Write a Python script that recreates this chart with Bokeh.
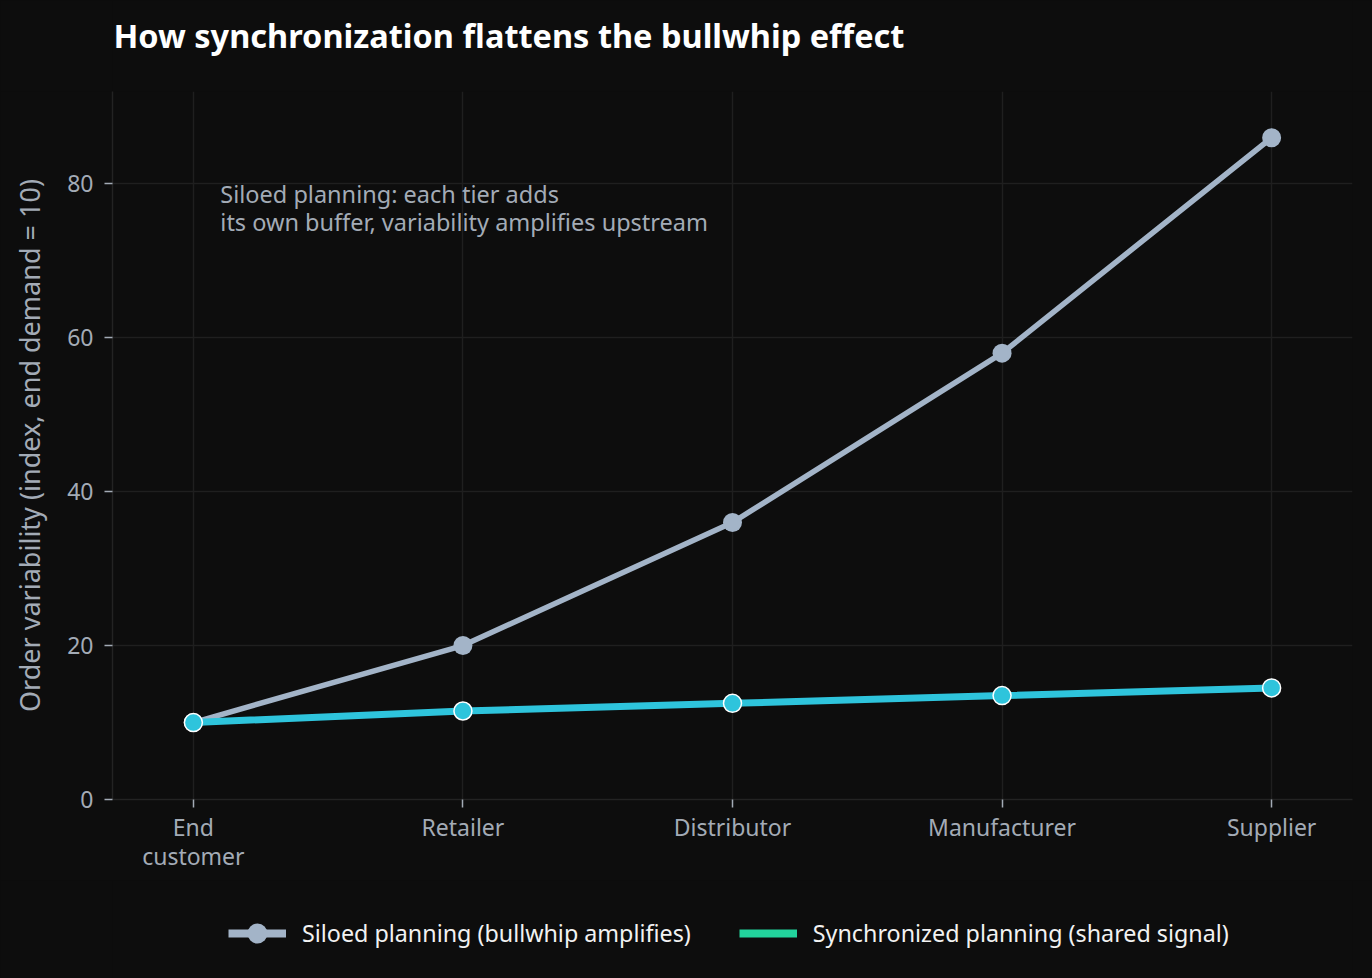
from bokeh.plotting import figure
from bokeh.layouts import column
from bokeh.models import Legend, LegendItem, Label, FixedTicker, Range1d, ColumnDataSource
from bokeh.embed import file_html
from bokeh.resources import INLINE

# Supply-chain tiers, from end demand upstream
tiers = ["End\ncustomer", "Retailer", "Distributor", "Manufacturer", "Supplier"]
tier_pos = [0, 1, 2, 3, 4]
siloed = [10, 20, 36, 58, 86]
synchronized = [10, 11.5, 12.5, 13.5, 14.5]
y_ticks = [0, 20, 40, 60, 80]

FONT = "Noto Sans"
BG = "#0d0d0d"
GRID = "#1f1f1f"
MUTED = "#a3abb6"
SILO_C = "#a3b4c8"
SYNC_C = "#2ec4dc"
SYNC_LEGEND_C = "#22d39c"
W = 1372
FRAME_W = 1240  # plot area width shared by all three stacked strips


def blank_strip(height):
    """A plain strip (no axes or grid) used for the heading and the key."""
    f = figure(width=W, height=height, output_backend="svg", toolbar_location=None,
               x_range=Range1d(0, FRAME_W), y_range=Range1d(0, height),
               x_axis_type=None, y_axis_type=None, min_border=0)
    f.grid.visible = False
    f.background_fill_color = BG
    f.border_fill_color = BG
    f.outline_line_color = None
    return f


# ---- heading -------------------------------------------------------------
head = blank_strip(91)
head.add_layout(Label(x=1, y=56, text="How synchronization flattens the bullwhip effect",
                      text_font=FONT, text_font_size="32.5px", text_font_style="bold",
                      text_color="#ffffff", text_baseline="middle"))

# ---- main chart ----------------------------------------------------------
p = figure(width=W, height=789, output_backend="svg", toolbar_location=None,
           x_range=Range1d(-0.3, 4.3), y_range=Range1d(0, 92),
           min_border_left=112, min_border_right=20, min_border_top=0,
           min_border_bottom=81)
p.background_fill_color = BG
p.border_fill_color = BG
p.outline_line_color = None

src = ColumnDataSource(dict(x=tier_pos, silo=siloed, sync=synchronized))

p.line("x", "silo", source=src, line_color=SILO_C, line_width=5.5)
p.scatter("x", "silo", source=src, size=19, fill_color=SILO_C, line_color=None)
p.line("x", "sync", source=src, line_color=SYNC_C, line_width=7)
p.scatter("x", "sync", source=src, size=18, fill_color=SYNC_C,
          line_color="#ffffff", line_width=1.5)

p.xaxis.ticker = FixedTicker(ticks=tier_pos)
p.xaxis.major_label_overrides = {i: t for i, t in zip(tier_pos, tiers)}
p.yaxis.ticker = FixedTicker(ticks=y_ticks)
for ax in (p.xaxis[0], p.yaxis[0]):
    ax.axis_line_color = "#232323"
    ax.axis_line_width = 1.5
    ax.major_tick_line_color = MUTED
    ax.major_tick_line_width = 1.5
    ax.minor_tick_line_color = None
    ax.major_tick_in = 0
    ax.major_tick_out = 8
    ax.major_label_text_font = FONT
    ax.major_label_text_font_size = "23px"
    ax.major_label_text_color = MUTED
    ax.major_label_text_line_height = 0.93
p.xaxis.major_label_standoff = 3
p.yaxis.major_label_standoff = 11
p.yaxis.axis_label = "Order variability (index, end demand = 10)"
p.yaxis.axis_label_text_font = FONT
p.yaxis.axis_label_text_font_size = "27px"
p.yaxis.axis_label_text_font_style = "normal"
p.yaxis.axis_label_text_color = MUTED
p.yaxis.axis_label_standoff = 16

p.xgrid.grid_line_color = GRID
p.ygrid.grid_line_color = GRID
p.xgrid.grid_line_width = 1.5
p.ygrid.grid_line_width = 1.5

p.add_layout(Label(x=0.1, y=80.8,
                   text="Siloed planning: each tier adds\nits own buffer, variability amplifies upstream",
                   text_font=FONT, text_font_size="23.5px", text_color=MUTED,
                   text_baseline="top", text_line_height=0.9))

# ---- key -----------------------------------------------------------------
key = blank_strip(98)
key_silo_line = key.line(tier_pos, siloed, line_color=SILO_C, line_width=8, visible=False)
key_silo_dot = key.scatter(tier_pos, siloed, size=20, fill_color=SILO_C,
                           line_color=None, visible=False)
key_sync_line = key.line(tier_pos, synchronized, line_color=SYNC_LEGEND_C,
                         line_width=8, visible=False)
legend = Legend(items=[
    LegendItem(label="Siloed planning (bullwhip amplifies)",
               renderers=[key_silo_line, key_silo_dot]),
    LegendItem(label="Synchronized planning (shared signal)",
               renderers=[key_sync_line]),
], orientation="horizontal", location=(116, 20),
    background_fill_alpha=0, border_line_color=None,
    label_text_font=FONT, label_text_font_size="23.3px", label_text_color="#f2f2f2",
    glyph_width=58, glyph_height=50, spacing=48, label_standoff=16,
    margin=0, padding=0)
key.add_layout(legend)

page = column(head, p, key, spacing=0, styles={"background-color": BG})

open("out.html", "w").write(file_html(page, INLINE))
